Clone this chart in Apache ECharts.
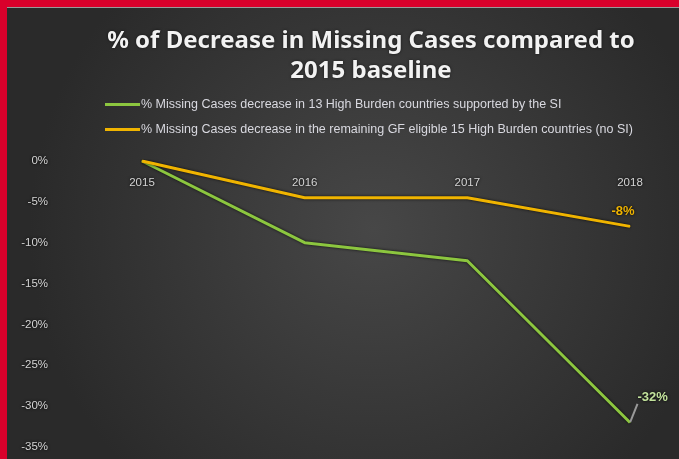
<!DOCTYPE html>
<html>
<head>
<meta charset="utf-8">
<script src="https://cdn.jsdelivr.net/npm/echarts@6/dist/echarts.min.js"></script>
<style>html,body{margin:0;padding:0;background:#2a2a2a;}#c{width:679px;height:459px;}</style>
</head>
<body>
<div id="c"></div>
<script>
const categories = ['2015', '2016', '2017', '2018'];
const seriesNames = [
  '% Missing Cases decrease in 13 High Burden countries supported by the SI',
  '% Missing Cases decrease in the remaining GF eligible 15 High Burden countries (no SI)'
];
const siValues = [0, -10, -12.2, -32];
const noSiValues = [0, -4.5, -4.5, -8];
const yTicks = { min: -35, max: 0, interval: 5 };

const chart = echarts.init(document.getElementById('c'));
const green = '#8cc63f', yellow = '#f0b400';

function withEndLabel(vals, opt) {
  return vals.map((v, i) => i === vals.length - 1
    ? Object.assign({ value: v }, opt)
    : v);
}

chart.setOption({
  backgroundColor: {
    type: 'radial', x: 0.55, y: 0.5, r: 0.75,
    colorStops: [{ offset: 0, color: '#474747' }, { offset: 1, color: '#2a2a2a' }]
  },
  graphic: [
    { type: 'rect', left: 0, top: 0, shape: { width: 679, height: 7 }, style: { fill: '#d9002b' }, z: 100 },
    { type: 'rect', left: 0, top: 7, shape: { width: 679, height: 1 }, style: { fill: '#9a9a9a' }, z: 100 },
    { type: 'rect', left: 0, top: 0, shape: { width: 7, height: 459 }, style: { fill: '#d9002b' }, z: 101 }
  ],
  title: {
    text: '% of Decrease in Missing Cases compared to\n2015 baseline',
    left: 366,
    textAlign: 'center',
    top: 21,
    textStyle: { color: '#f2f2f2', fontSize: 24, fontWeight: 'bold', fontFamily: 'Noto Sans', lineHeight: 30,
      textShadowColor: 'rgba(0,0,0,0.6)', textShadowBlur: 3 }
  },
  legend: {
    orient: 'vertical', left: 100, top: 93, itemWidth: 35, itemHeight: 3, itemGap: 12,
    icon: 'rect',
    itemStyle: { opacity: 1 },
    textStyle: { color: '#d9d9e0', fontSize: 12.5, fontFamily: 'Liberation Sans', padding: [0, 0, 0, -4] },
    data: seriesNames
  },
  grid: { left: 142, right: 49, top: 161, bottom: 12, outerBoundsMode: 'none', containLabel: false },
  xAxis: {
    type: 'category', data: categories, boundaryGap: false, position: 'top',
    axisLine: { show: false }, axisTick: { show: false },
    axisLabel: { inside: true, color: '#d4d4d4', fontSize: 11.5, margin: 16, fontFamily: 'Liberation Sans',
      textShadowColor: '#000', textShadowBlur: 3 },
    splitLine: { show: false }
  },
  yAxis: {
    type: 'value', min: yTicks.min, max: yTicks.max, interval: yTicks.interval,
    axisLine: { show: false }, axisTick: { show: false }, splitLine: { show: false },
    axisLabel: { formatter: '{value}%', color: '#d4d4d4', fontSize: 11.5, margin: 94, fontFamily: 'Liberation Sans',
      textShadowColor: '#000', textShadowBlur: 3 }
  },
  series: [
    {
      name: seriesNames[0], type: 'line',
      data: withEndLabel(siValues, {
        label: { show: true, formatter: '-32%', color: '#c2e29c', fontSize: 13, fontWeight: 'bold', position: 'right', offset: [2, -25], fontFamily: 'Liberation Sans',
          textShadowColor: '#000', textShadowBlur: 3 },
        labelLine: { show: true, lineStyle: { color: '#9a9a9a', width: 2 } }
      }),
      showSymbol: true, symbol: 'circle', symbolSize: 1, color: green,
      itemStyle: { color: green },
      lineStyle: { width: 3, color: green, shadowColor: 'rgba(0,0,0,0.8)', shadowBlur: 3 },
      label: { show: false }
    },
    {
      name: seriesNames[1], type: 'line',
      data: withEndLabel(noSiValues, {
        label: { show: true, formatter: '-8%', color: '#f0b400', fontSize: 13, fontWeight: 'bold', position: 'top', offset: [-7, -3], fontFamily: 'Liberation Sans',
          textShadowColor: '#000', textShadowBlur: 3 }
      }),
      showSymbol: true, symbol: 'circle', symbolSize: 1, color: yellow,
      itemStyle: { color: yellow },
      lineStyle: { width: 3, color: yellow, shadowColor: 'rgba(0,0,0,0.8)', shadowBlur: 3 },
      label: { show: false }
    }
  ]
});
</script>
</body>
</html>
